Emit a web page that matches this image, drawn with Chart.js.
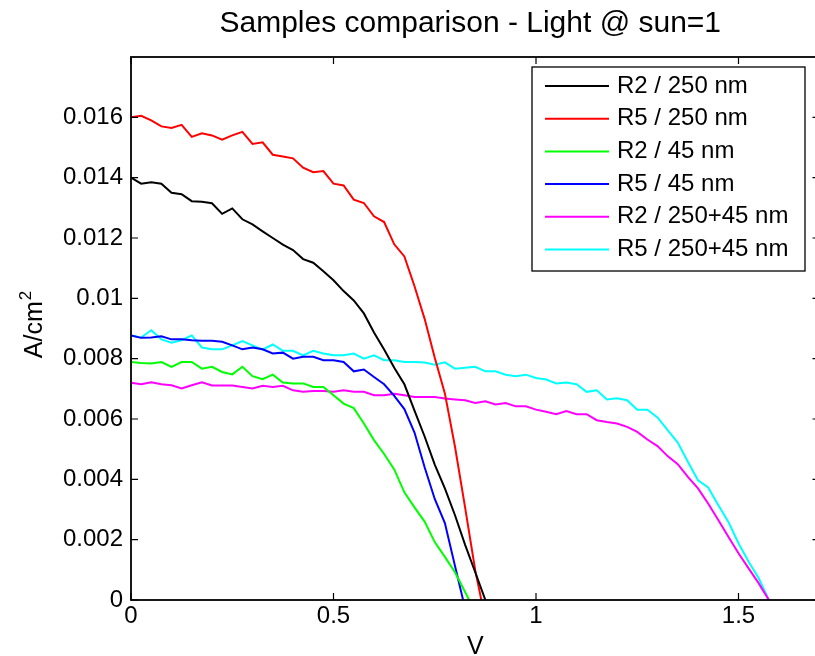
<!DOCTYPE html>
<html>
<head>
<meta charset="utf-8">
<script src="https://cdn.jsdelivr.net/npm/chart.js@4.4.1/dist/chart.umd.min.js"></script>
<style>
  html, body { margin: 0; padding: 0; background: #fff; overflow: hidden; }
  canvas { display: block; }
</style>
</head>
<body>
<canvas id="ivChart" width="822" height="656"></canvas>
<script>
// Data (V in volts, J in A/cm2)
const chartTitle = 'Samples comparison - Light @ sun=1';

const vGrid = [0, 0.025, 0.05, 0.075, 0.1, 0.125, 0.15, 0.175, 0.2, 0.225, 0.25, 0.275, 0.3, 0.325,
  0.35, 0.375, 0.4, 0.425, 0.45, 0.475, 0.5, 0.525, 0.55, 0.575, 0.6, 0.625, 0.65, 0.675, 0.7,
  0.725, 0.75, 0.775, 0.8, 0.825, 0.85, 0.875, 0.9, 0.925, 0.95, 0.975, 1, 1.025, 1.05, 1.075,
  1.1, 1.125, 1.15, 1.175, 1.2, 1.225, 1.25, 1.275, 1.3, 1.325, 1.35, 1.375, 1.4, 1.425, 1.45,
  1.475, 1.5, 1.525, 1.55];

const labels = ['R2 / 250 nm', 'R5 / 250 nm', 'R2 / 45 nm', 'R5 / 45 nm', 'R2 / 250+45 nm', 'R5 / 250+45 nm'];
const colors = ['#000000', '#ff0000', '#00ff00', '#0000ff', '#ff00ff', '#00ffff'];
// open-circuit voltage, where each curve reaches J = 0
const vocs = [0.875, 0.865, 0.835, 0.82, 1.575, 1.575];

const jR2_250 = [0.01400, 0.01380, 0.01385, 0.01380, 0.01350, 0.01345, 0.01322, 0.01320, 0.01315,
  0.01280, 0.01298, 0.01262, 0.01245, 0.01222, 0.01200, 0.01178, 0.01160, 0.01130, 0.01118,
  0.01090, 0.01060, 0.01024, 0.00993, 0.00950, 0.00887, 0.00830, 0.00770, 0.00715, 0.00628,
  0.00542, 0.00449, 0.00370, 0.00281, 0.00183, 0.00092];

const jR5_250 = [0.01600, 0.01605, 0.01590, 0.01570, 0.01565, 0.01575, 0.01535, 0.01547, 0.01540,
  0.01526, 0.01540, 0.01552, 0.01512, 0.01517, 0.01476, 0.01470, 0.01464, 0.01433, 0.01418,
  0.01422, 0.01380, 0.01374, 0.01327, 0.01316, 0.01272, 0.01253, 0.01179, 0.01139, 0.01040,
  0.00932, 0.00803, 0.00685, 0.00508, 0.00306, 0.00098];

const jR2_45 = [0.00789, 0.00786, 0.00784, 0.00789, 0.00773, 0.00789, 0.00789, 0.00767, 0.00773,
  0.00756, 0.00748, 0.00773, 0.00742, 0.00732, 0.00747, 0.00721, 0.00718, 0.00718, 0.00706,
  0.00706, 0.00679, 0.00651, 0.00636, 0.00585, 0.00530, 0.00484, 0.00433, 0.00357, 0.00307,
  0.00260, 0.00192, 0.00143, 0.00092];

const jR5_45 = [0.00877, 0.00869, 0.00870, 0.00874, 0.00864, 0.00864, 0.00861, 0.00859, 0.00859,
  0.00856, 0.00844, 0.00831, 0.00837, 0.00831, 0.00817, 0.00820, 0.00800, 0.00806, 0.00806,
  0.00795, 0.00795, 0.00789, 0.00758, 0.00764, 0.00739, 0.00715, 0.00677, 0.00633, 0.00555,
  0.00440, 0.00335, 0.00255, 0.00113];

const jR2_both = [0.00720, 0.00715, 0.00722, 0.00715, 0.00712, 0.00701, 0.00712, 0.00722, 0.00711,
  0.00711, 0.00711, 0.00706, 0.00701, 0.00710, 0.00706, 0.00710, 0.00695, 0.00690, 0.00693,
  0.00693, 0.00690, 0.00695, 0.00690, 0.00690, 0.00679, 0.00679, 0.00684, 0.00679, 0.00673,
  0.00673, 0.00673, 0.00668, 0.00665, 0.00662, 0.00653, 0.00659, 0.00648, 0.00653, 0.00642,
  0.00642, 0.00631, 0.00624, 0.00616, 0.00626, 0.00616, 0.00616, 0.00596, 0.00590, 0.00585,
  0.00574, 0.00557, 0.00532, 0.00510, 0.00477, 0.00450, 0.00408, 0.00370, 0.00320, 0.00265,
  0.00210, 0.00155, 0.00105, 0.00055];

const jR5_both = [0.00877, 0.00870, 0.00894, 0.00864, 0.00853, 0.00861, 0.00877, 0.00837, 0.00831,
  0.00831, 0.00844, 0.00858, 0.00844, 0.00830, 0.00847, 0.00826, 0.00826, 0.00811, 0.00826,
  0.00817, 0.00811, 0.00811, 0.00817, 0.00800, 0.00811, 0.00795, 0.00795, 0.00789, 0.00789,
  0.00787, 0.00780, 0.00788, 0.00767, 0.00770, 0.00773, 0.00758, 0.00758, 0.00747, 0.00742,
  0.00747, 0.00736, 0.00731, 0.00718, 0.00721, 0.00715, 0.00690, 0.00695, 0.00665, 0.00669,
  0.00662, 0.00631, 0.00631, 0.00605, 0.00563, 0.00522, 0.00458, 0.00397, 0.00373, 0.00315,
  0.00259, 0.00188, 0.00127, 0.00072];

const xTicks = [0, 0.5, 1, 1.5];
const xTickLabels = ['0', '0.5', '1', '1.5'];
const yTicks = [0, 0.002, 0.004, 0.006, 0.008, 0.01, 0.012, 0.014, 0.016];
const yTickLabels = ['0', '0.002', '0.004', '0.006', '0.008', '0.01', '0.012', '0.014', '0.016'];

const FONT = '"Liberation Sans", Arial, Helvetica, sans-serif';

function toPoints(j, voc) {
  const pts = j.map((val, i) => ({ x: vGrid[i], y: val }));
  pts.push({ x: voc, y: 0 });
  return pts;
}

const series = [jR2_250, jR5_250, jR2_45, jR5_45, jR2_both, jR5_both];

// MATLAB-style box, inward ticks, title, y label and legend
const matlabAxes = {
  id: 'matlabAxes',
  afterDraw(chart) {
    const { ctx, chartArea: a, scales: { x, y } } = chart;
    ctx.save();
    ctx.strokeStyle = '#000';
    ctx.lineWidth = 1.8;
    ctx.strokeRect(a.left, a.top, a.right - a.left, a.bottom - a.top);

    ctx.lineWidth = 1.2;
    ctx.beginPath();
    xTicks.forEach(v => {
      const px = x.getPixelForValue(v);
      ctx.moveTo(px, a.bottom); ctx.lineTo(px, a.bottom - 7);
      ctx.moveTo(px, a.top); ctx.lineTo(px, a.top + 7);
    });
    yTicks.forEach(v => {
      const py = y.getPixelForValue(v);
      ctx.moveTo(a.left, py); ctx.lineTo(a.left + 7, py);
      ctx.moveTo(a.right, py); ctx.lineTo(a.right - 7, py);
    });
    ctx.stroke();

    // title
    ctx.fillStyle = '#000';
    ctx.font = '30px ' + FONT;
    ctx.textAlign = 'center';
    ctx.textBaseline = 'alphabetic';
    ctx.fillText(chartTitle, (a.left + a.right) / 2 - 5, 32);

    // y label with superscript
    ctx.save();
    ctx.translate(42, 325);
    ctx.rotate(-Math.PI / 2);
    ctx.font = '25px ' + FONT;
    const w1 = ctx.measureText('A/cm').width;
    ctx.font = '17px ' + FONT;
    const w2 = ctx.measureText('2').width;
    const x0 = -(w1 + w2) / 2;
    ctx.textAlign = 'left';
    ctx.font = '25px ' + FONT;
    ctx.fillText('A/cm', x0, 0);
    ctx.font = '17px ' + FONT;
    ctx.fillText('2', x0 + w1 + 1, -11);
    ctx.restore();

    // legend
    const bx = 532, by = 67, bw = 273, bh = 204;
    ctx.fillStyle = '#fff';
    ctx.fillRect(bx, by, bw, bh);
    ctx.strokeStyle = '#000';
    ctx.lineWidth = 1.3;
    ctx.strokeRect(bx, by, bw, bh);
    ctx.font = '24px ' + FONT;
    ctx.textAlign = 'left';
    ctx.textBaseline = 'middle';
    chart.data.datasets.forEach((ds, i) => {
      const ry = by + 19 + i * 32.7;
      ctx.strokeStyle = ds.borderColor;
      ctx.lineWidth = 2;
      ctx.beginPath();
      ctx.moveTo(545, ry); ctx.lineTo(609, ry);
      ctx.stroke();
      ctx.fillStyle = '#000';
      ctx.fillText(ds.label, 617, ry);
    });
    ctx.restore();
  }
};

const ctx = document.getElementById('ivChart').getContext('2d');
const ivChart = new Chart(ctx, {
  type: 'line',
  data: {
    datasets: series.map((j, i) => ({
      label: labels[i],
      data: toPoints(j, vocs[i]),
      borderColor: colors[i],
      backgroundColor: colors[i],
      borderWidth: 2,
      pointRadius: 0,
      tension: 0,
      fill: false
    }))
  },
  options: {
    responsive: false,
    animation: false,
    layout: { padding: { top: 57, right: 2.5, left: 0, bottom: 0 } },
    plugins: {
      legend: { display: false },
      tooltip: { enabled: false },
      title: { display: false }
    },
    scales: {
      x: {
        type: 'linear',
        min: 0,
        max: 1.7,
        grid: { display: false, drawTicks: false },
        border: { display: false },
        afterBuildTicks: s => { s.ticks = xTicks.map(v => ({ value: v })); },
        afterFit: s => { s.height = 56; },
        ticks: {
          autoSkip: false,
          maxRotation: 0,
          padding: 2,
          color: '#000',
          font: { family: FONT, size: 24 },
          callback: (v, i) => xTickLabels[i]
        },
        title: {
          display: true,
          text: 'V',
          color: '#000',
          font: { family: FONT, size: 25, lineHeight: 1 },
          padding: { top: 0, bottom: -4 }
        }
      },
      y: {
        type: 'linear',
        min: 0,
        max: 0.018,
        grid: { display: false, drawTicks: false },
        border: { display: false },
        afterBuildTicks: s => { s.ticks = yTicks.map(v => ({ value: v })); },
        afterFit: s => { s.width = 131; },
        ticks: {
          autoSkip: false,
          padding: 8,
          color: '#000',
          font: { family: FONT, size: 24 },
          callback: (v, i) => yTickLabels[i]
        }
      }
    }
  },
  plugins: [matlabAxes]
});
</script>
</body>
</html>
